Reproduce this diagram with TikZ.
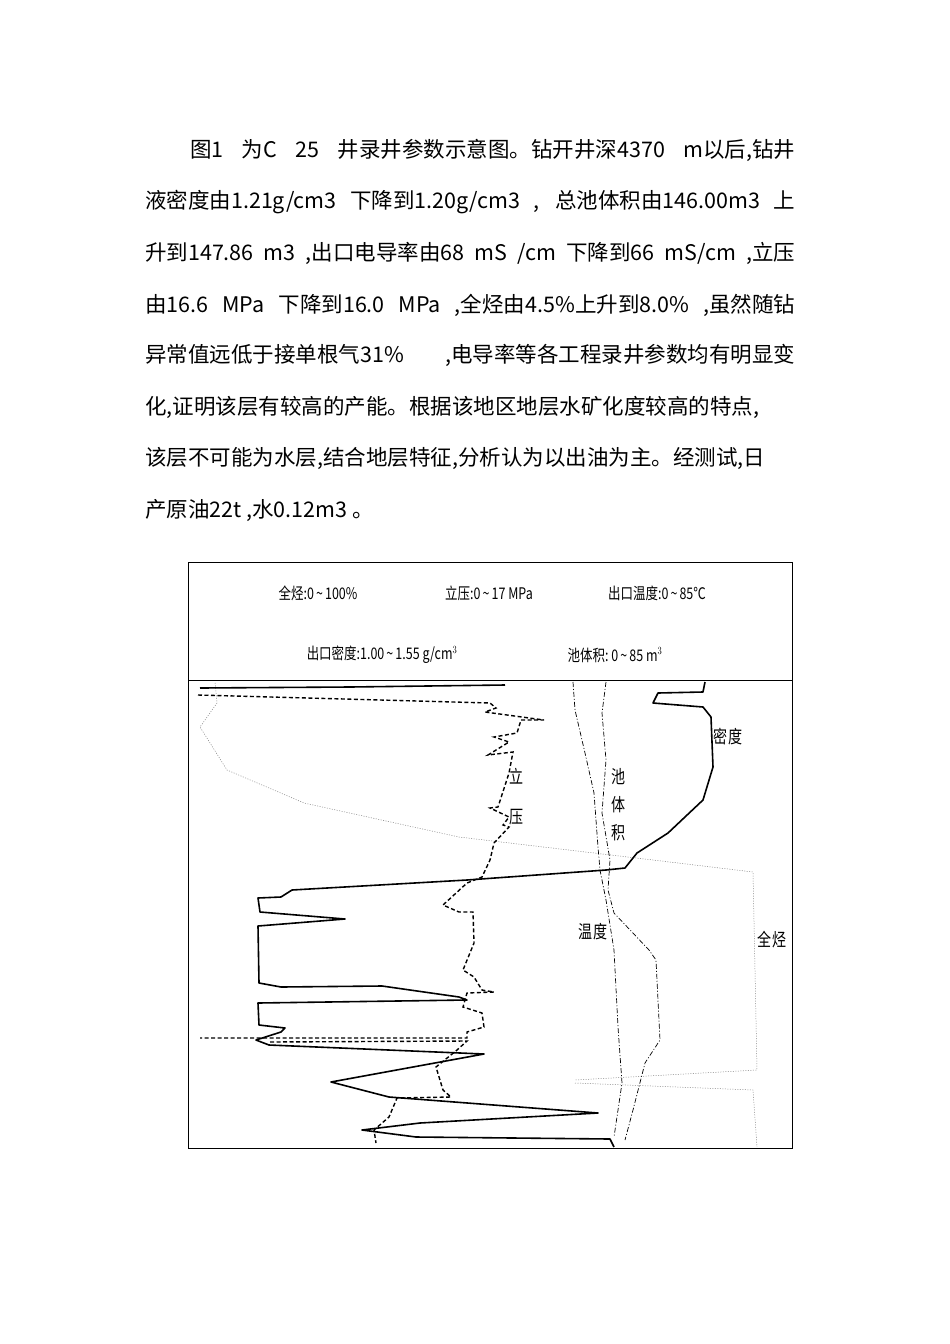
\documentclass[tikz,border=0pt]{standalone}
\usepackage{fontspec}
\newfontfamily\cjk{Noto Sans CJK SC}
\tikzset{
  para/.style={anchor=west,inner sep=0pt,font=\cjk\fontsize{21.5}{21.5}\selectfont},
  hdr/.style={inner sep=0pt,font=\cjk\fontsize{16}{16}\selectfont},
  lbl/.style={inner sep=0pt,font=\cjk\fontsize{18}{18}\selectfont},
  thick curve/.style={line width=1.6pt,line join=round},
  dash curve/.style={line width=1.4pt,dash pattern=on 4pt off 2.5pt},
  dd curve/.style={line width=0.7pt,dash pattern=on 5pt off 2pt on 1pt off 2pt},
  dot curve/.style={line width=0.5pt,gray,dash pattern=on 1pt off 1.5pt},
}
\newcommand{\jline}[1]{\makebox[650pt][s]{#1}}
\newcommand{\nar}[1]{\scalebox{0.78}[1]{#1}}
\begin{document}
\begin{tikzpicture}[x=1pt,y=-1pt]
\fill[white] (0,0) rectangle (950,1344);
\useasboundingbox (0,0) rectangle (950,1344);
% paragraph
\node[para] (l1) at (190,150) {\makebox[605pt][s]{图1 为C 25 井录井参数示意图。钻开井深4370 m以后,钻井}};
\node[para] (l2) at (145,202) {\jline{液密度由1.21g/cm3 下降到1.20g/cm3 , 总池体积由146.00m3 上}};
\node[para] (l3) at (145,253) {\jline{升到147.86 m3 ,出口电导率由68 mS /cm 下降到66 mS/cm ,立压}};
\node[para] (l4) at (145,305) {\jline{由16.6 MPa 下降到16.0 MPa ,全烃由4.5\%上升到8.0\% ,虽然随钻}};
\node[para] (l5) at (145,355) {\jline{异常值远低于接单根气31\% ,电导率等各工程录井参数均有明显变}};
\node[para] (l6) at (145,407) {化,证明该层有较高的产能。根据该地区地层水矿化度较高的特点,};
\node[para] (l7) at (145,458) {该层不可能为水层,结合地层特征,分析认为以出油为主。经测试,日};
\node[para] (l8) at (145,510) {产原油22t ,水0.12m3 。};
% chart frame
\draw[line width=1pt] (188,562) rectangle (792,1148);
\draw[line width=1pt] (188,680) -- (792,680);
\node[hdr] (h1) at (318,593) {\nar{全烃:0\,\textasciitilde\,100\%}};
\node[hdr] (h2) at (489,593) {\nar{立压:0\,\textasciitilde\,17 MPa}};
\node[hdr] (h3) at (657,593) {\nar{出口温度:0\,\textasciitilde\,85℃}};
\node[hdr] (h4) at (382,655) {\nar{出口密度:1.00\,\textasciitilde\,1.55 g/cm$^{3}$}};
\node[hdr] (h5) at (615,655) {\nar{池体积:\ 0\,\textasciitilde\,85 m$^{3}$}};
% 全烃 dotted
\draw[dot curve] (215,683) -- (217,703) -- (200,727) -- (227,770) -- (304,803) -- (459,837) -- (653,860) -- (753,872) -- (757,1070) -- (575,1080);
\draw[dot curve] (575,1083) -- (753,1090) -- (757,1147);
% top solid line
\draw[thick curve] (200,688) -- (350,687) -- (505,685);
% 立压 dashed
\draw[dash curve] (198,695) -- (490,703) -- (496,708) -- (485,712) -- (544,720) -- (521,720) -- (517,733) -- (494,737) -- (509,742) -- (488,755) -- (513,752) -- (509,773) -- (498,807) -- (490,808) -- (509,817) -- (503,825) -- (509,827) -- (494,843) -- (490,860) -- (482,877) -- (467,883) -- (443,905) -- (459,912) -- (473,912) -- (474,943) -- (463,970) -- (474,977) -- (482,990) -- (494,992) -- (467,993) -- (463,1007) -- (482,1013) -- (484,1027) -- (467,1032) -- (467,1038) -- (200,1038);
\draw[dash curve] (270,1042) -- (467,1041) -- (457,1050) -- (436,1067) -- (443,1090) -- (451,1097) -- (397,1098) -- (389,1117) -- (374,1130) -- (376,1143);
% 密度 solid
\draw[thick curve] (705,682) -- (703,692) -- (658,693) -- (653,703) -- (703,707) -- (711,717) -- (713,767) -- (703,800) -- (668,833) -- (637,853) -- (625,868) -- (606,870) -- (467,880) -- (292,890) -- (281,897) -- (258,898) -- (260,912) -- (345,919) -- (258,926) -- (259,983) -- (281,987) -- (382,986) -- (459,997) -- (467,1000) -- (258,1003) -- (259,1025) -- (285,1028) -- (281,1032) -- (256,1040) -- (269,1045) -- (484,1054) -- (331,1082) -- (389,1097) -- (598,1113) -- (420,1123) -- (362,1130) -- (416,1137) -- (610,1139) -- (614,1147);
% 池体积 dash-dot
\draw[dd curve] (606,682) -- (602,713) -- (606,760) -- (602,813) -- (610,860) -- (608,890) -- (614,913) -- (649,950) -- (656,960) -- (660,1040) -- (645,1063) -- (633,1110) -- (625,1140);
% 温度 dash-dot
\draw[dd curve] (573,682) -- (575,710) -- (585,753) -- (594,793) -- (598,847) -- (600,870) -- (606,900) -- (614,950) -- (618,1027) -- (622,1083) -- (614,1137);
% labels
\node[lbl] (ld) at (728,737) {\nar{密度}};
\node[lbl] (ll1) at (517,776) {\nar{立}};
\node[lbl] (ll2) at (517,817) {\nar{压}};
\node[lbl] (lc1) at (619,777) {\nar{池}};
\node[lbl] (lc2) at (619,805) {\nar{体}};
\node[lbl] (lc3) at (619,833) {\nar{积}};
\node[lbl] (lt) at (593,932) {\nar{温度}};
\node[lbl] (lq) at (772,940) {\nar{全烃}};
\end{tikzpicture}
\end{document}
